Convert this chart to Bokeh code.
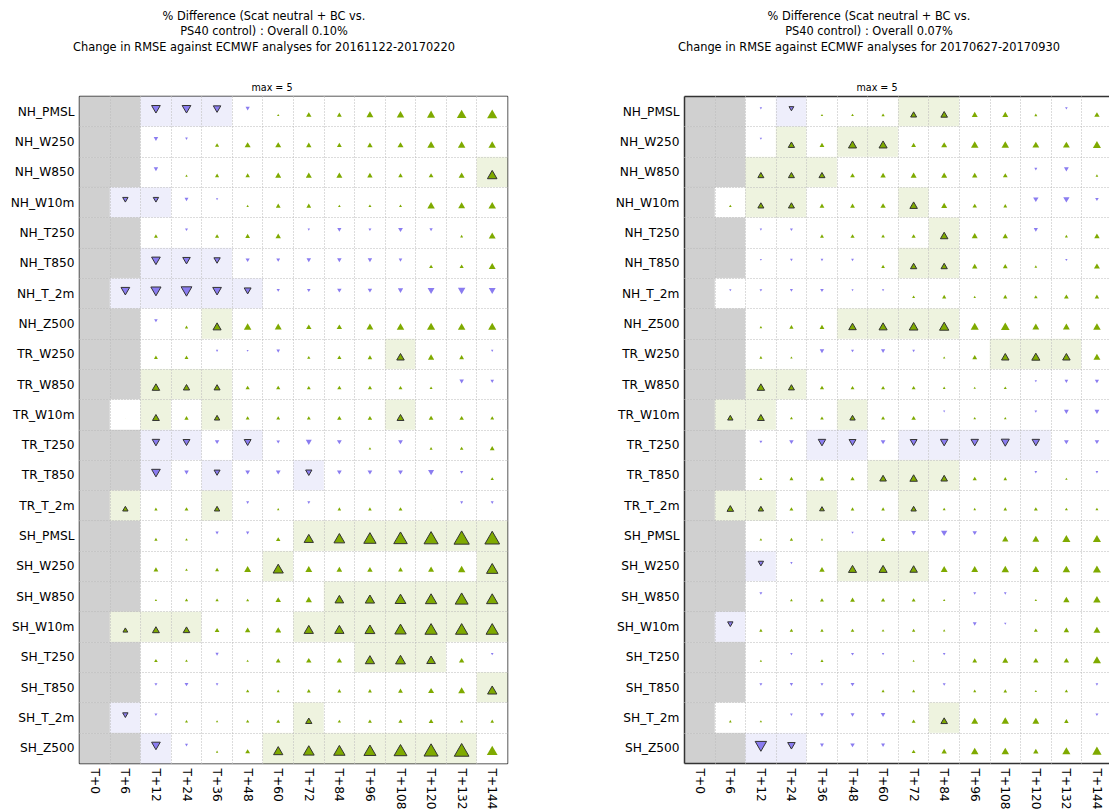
import html

from bokeh.plotting import figure
from bokeh.models import ColumnDataSource, Range1d, FixedTicker, LinearAxis, Div
from bokeh.layouts import row, column
from bokeh.embed import file_html
from bokeh.resources import INLINE

# Scorecard axes
variables = ["NH_PMSL", "NH_W250", "NH_W850", "NH_W10m", "NH_T250", "NH_T850", "NH_T_2m", "NH_Z500",
             "TR_W250", "TR_W850", "TR_W10m", "TR_T250", "TR_T850", "TR_T_2m",
             "SH_PMSL", "SH_W250", "SH_W850", "SH_W10m", "SH_T250", "SH_T850", "SH_T_2m", "SH_Z500"]
lead_times = ["T+0", "T+6", "T+12", "T+24", "T+36", "T+48", "T+60", "T+72",
              "T+84", "T+96", "T+108", "T+120", "T+132", "T+144"]

max_scale = 5
winter_period = "20161122-20170220"
summer_period = "20170627-20170930"
winter_overall = "0.10%"
summer_overall = "0.07%"

# % change in RMSE (positive = improvement); None = not verified
winter_change = [
    [None, None, -2.4, -2.4, -2.0, -0.9, 0.3, 1.3, 1.1, 1.8, 2.0, 2.2, 2.7, 2.9],
    [None, None, -1.0, -0.4, 0.9, 1.5, 1.5, 1.3, 1.1, 1.3, 1.5, 2.0, 2.0, 2.0],
    [None, None, -1.0, 0.3, 0.9, 1.0, 1.5, 1.5, 1.5, 1.3, 1.0, 1.1, 1.5, 2.7],
    [None, -1.3, -1.3, -0.8, -0.3, 0.3, 1.1, 1.1, 0.4, 0.5, 0.5, 2.0, 1.8, 2.0],
    [None, None, 0.8, -0.5, 0.9, 1.1, 1.3, -0.3, -0.9, -0.5, -1.1, -0.6, 0.5, 1.8],
    [None, None, -2.4, -2.0, -1.6, -0.9, -0.8, -1.0, -1.0, -1.0, -0.7, 0.8, 0.9, 1.8],
    [None, -2.4, -2.9, -3.1, -2.4, -1.8, -0.6, -0.7, -1.0, -1.0, -1.3, -1.8, -2.0, -1.8],
    [None, None, -0.7, 0.6, 2.2, 2.0, 1.8, 1.3, 1.3, 1.8, 2.0, 2.2, 2.0, 2.2],
    [None, None, 0.8, 0.8, -0.3, -0.2, -0.7, 0.6, 0.9, 1.0, 2.0, 1.6, 1.1, -0.3],
    [None, None, 2.0, 1.6, 1.5, 0.9, 0.9, 0.8, 0.9, 0.9, 0.8, 0.5, -1.0, -0.7],
    [None, 0.1, 1.8, 0.9, 1.3, 0.8, 0.8, 0.8, 1.0, 1.0, 1.8, 1.1, 1.0, 0.8],
    [None, None, -2.0, -1.8, -1.0, -1.8, -0.7, -1.5, -1.1, 0.4, -1.1, 0.5, 0.7, 1.1],
    [None, None, -2.4, -1.0, -1.5, -1.1, -1.1, -1.6, -1.1, -1.1, -1.1, -1.5, -0.6, 0.6],
    [None, 1.3, 0.6, 0.8, 1.3, -0.5, 0.3, -0.5, 0.7, 0.7, 0.8, 0.1, -0.5, -0.5],
    [None, None, 0.6, 0.4, -0.6, -0.6, 1.0, 2.6, 3.1, 3.6, 4.0, 4.2, 4.6, 4.4],
    [None, None, 1.1, 0.4, 0.8, 1.8, 2.9, 1.8, 1.4, 1.3, 1.1, 1.5, 2.0, 3.3],
    [None, None, 0.3, 0.6, 0.6, 0.5, 1.3, 1.6, 2.4, 2.6, 3.1, 3.3, 3.8, 3.3],
    [None, 1.1, 1.8, 1.7, 1.1, 1.3, 1.5, 2.6, 2.6, 2.8, 3.3, 3.6, 3.6, 3.6],
    [None, None, 0.7, 0.4, -0.6, 0.3, 1.1, 1.3, 1.3, 2.6, 2.8, 2.4, 1.3, -0.4],
    [None, None, -0.5, -0.8, -0.4, 0.6, 0.5, 0.8, 0.8, 0.8, 1.1, 1.5, 1.8, 2.6],
    [None, -1.3, -0.5, 0.5, 0.3, 0.6, 0.8, 1.6, 0.6, 0.8, 0.9, 1.1, 0.6, 0.7],
    [None, None, -2.4, -0.5, 0.3, 1.1, 2.6, 3.1, 3.3, 3.5, 3.8, 4.2, 4.4, 3.1],
]
# "S" marks a statistically significant change
winter_signif = [
    "..SSS.........", "..............", ".............S", ".SS...........",
    "..............", "..SSS.........", ".SSSSS........", "....S.........",
    "..........S...", "..SSS.........", "..S.S.....S...", "..SS.S........",
    "..S.S..S......", ".S..S.........", ".......SSSSSSS", "......S......S",
    "........SSSSSS", ".SSS...SSSSSSS", ".........SSS..", ".............S",
    ".S.....S......", "..S...SSSSSSS.",
]

summer_change = [
    [None, None, -0.3, -1.1, 0.3, 0.4, 0.6, 1.5, 1.7, 1.5, 1.5, 0.5, -0.4, 1.3],
    [None, None, -0.3, 1.6, 1.1, 2.2, 2.2, 1.1, 1.5, 2.0, 2.0, 1.8, 1.8, 2.2],
    [None, None, 1.5, 1.5, 1.5, 1.1, 1.3, 1.5, 1.5, 1.3, 1.1, -0.5, -1.1, 0.4],
    [None, 0.4, 1.5, 1.5, 1.1, 1.1, 1.3, 2.0, 1.5, 1.0, 0.8, -1.3, -1.6, -0.7],
    [None, None, -0.3, -0.5, 0.8, 0.9, 0.7, 0.9, 2.0, 1.5, 1.3, -0.9, 0.5, 1.3],
    [None, None, -0.2, -0.4, -0.4, -0.4, 0.7, 1.6, 1.6, 1.3, 1.1, 0.4, -0.3, 1.5],
    [None, -0.3, -0.4, -0.5, -0.7, -0.2, -0.3, 0.5, 0.9, 0.3, 0.9, 0.7, 1.1, 1.0],
    [None, None, 0.4, 0.9, 1.1, 2.0, 2.2, 2.4, 2.6, 2.2, 2.4, 1.8, 1.8, 2.0],
    [None, None, 0.5, 0.3, -1.0, -0.5, -0.9, -0.4, 0.3, 1.1, 2.0, 2.2, 2.0, 1.8],
    [None, None, 2.0, 1.5, 0.9, 0.8, 0.8, 0.8, 0.4, 0.3, 0.5, -0.3, -0.7, -0.9],
    [None, 1.3, 1.8, 0.5, 0.7, 1.3, 0.8, 1.0, -0.2, 0.4, 0.4, -0.4, -1.1, -1.1],
    [None, None, -0.5, -1.0, -2.0, -1.8, -1.1, -1.8, -2.0, -2.0, -2.2, -2.0, -1.1, -1.0],
    [None, None, 0.6, 0.8, 1.0, 0.9, 1.7, 2.0, 1.7, 0.9, 0.7, -0.4, 0.3, -0.4],
    [None, 1.7, 1.3, 0.8, 1.1, 0.7, 0.7, 1.3, 0.5, 0.4, 0.7, 0.8, 0.5, 0.5],
    [None, None, 0.4, 0.6, 0.3, -0.3, 1.0, -1.1, -1.6, -1.0, 1.6, 1.8, 2.2, 2.2],
    [None, None, -1.3, -0.3, 1.3, 2.2, 2.2, 2.0, 1.8, 1.8, 2.0, 1.8, 2.0, 2.2],
    [None, None, -0.5, 0.4, 0.8, 1.1, 0.9, 0.8, 0.3, -0.5, -0.4, 0.3, 1.6, 2.0],
    [None, -1.3, 0.6, 0.7, 0.6, 0.7, 0.4, 0.6, 0.3, -0.8, -0.3, 0.8, 1.3, 1.8],
    [None, None, 0.3, -0.3, 0.5, -0.5, -0.3, 0.2, -0.4, 1.1, 1.5, 1.3, 1.3, 2.2],
    [None, None, -0.5, -0.6, -0.5, -0.8, 0.5, 0.5, -0.5, 0.5, 0.7, 0.3, 0.6, -0.4],
    [None, 0.4, 0.3, -0.4, -0.9, -0.8, -1.0, 0.8, 1.7, 1.8, 2.0, 1.8, 1.0, -0.5],
    [None, None, -3.3, -2.0, -0.8, -1.0, -0.8, 0.8, 1.3, 2.0, 2.0, 1.3, 2.2, 2.6],
]
summer_signif = [
    "...S...SS.....", "...S.SS.......", "..SSS.........", "..SS...S......",
    "........S.....", ".......SS.....", "..............", ".....SSSS.....",
    "..........SSS.", "..SS..........", ".SS..S........", "....SS.SSSSS..",
    "......SSS.....", ".SS.S..S......", "..............", "..S..SSS......",
    "..............", ".S............", "..............", "..............",
    "........S.....", "..SS..........",
]

# Styling
MISSING_BG = "#d0d0d0"
BETTER_BG = "#eef3df"
WORSE_BG = "#eeeefb"
BETTER_FILL = "#7faa00"
WORSE_FILL = "#8a7cf0"
EDGE = "#333333"
FRAME = "#333333"
FONT = "DejaVu Sans"
PX_PER_UNIT = 15.0 / max_scale
MIN_MARK = 1.5
MARKER_SHIFT = 0.12

PAGE_W = 1109
FIG_H = 812
HEAD_H = 94          # strip holding the title lines
PLOT_H = FIG_H - HEAD_H
BORDER_TOP = 2
BORDER_BOTTOM = 45
LEFT_W, LEFT_BORDER = 560, 79
RIGHT_W, RIGHT_BORDER = PAGE_W - LEFT_W, 124


def build_sources(change, signif):
    cx, cy, ccol = [], [], []
    mx, my, mkind, msize, mfill, medge = [], [], [], [], [], []
    for r, (vals, flags) in enumerate(zip(change, signif)):
        for c, (v, f) in enumerate(zip(vals, flags)):
            cx.append(c)
            cy.append(r)
            if v is None:
                ccol.append(MISSING_BG)
                continue
            sig = f == "S"
            up = v >= 0
            if sig:
                ccol.append(BETTER_BG if up else WORSE_BG)
            else:
                ccol.append("#ffffff")
            mx.append(c)
            my.append(r + MARKER_SHIFT if up else r - MARKER_SHIFT)
            mkind.append("triangle" if up else "inverted_triangle")
            msize.append(abs(v) * PX_PER_UNIT + (MIN_MARK if abs(v) >= 0.2 else 0.0))
            mfill.append(BETTER_FILL if up else WORSE_FILL)
            medge.append(1.0 if sig else 0.0)
    cells = ColumnDataSource(dict(x=cx, y=cy, color=ccol))
    marks = ColumnDataSource(dict(x=mx, y=my, marker=mkind, size=msize,
                                  fill=mfill, edge_alpha=medge))
    return cells, marks


def title_block(frame_left, period, overall):
    lines = [
        ("% Difference (Scat neutral + BC vs.", 16.5, 11.4),
        ("PS40 control) : Overall " + overall, 32.0, 11.4),
        ("Change in RMSE against ECMWF analyses for " + period, 47.5, 11.4),
    ]
    parts = []
    for text, top, size in lines:
        parts.append((frame_left + 185, top, size, text))
    parts.append((frame_left + 193, 87.5, 9.6, "max = %d" % max_scale))
    return parts


def make_header():
    items = (title_block(LEFT_BORDER, winter_period, winter_overall)
             + title_block(LEFT_W + RIGHT_BORDER, summer_period, summer_overall))
    spans = []
    for x, y, size, text in items:
        spans.append(
            '<div style="position:absolute;left:%.1fpx;top:%.1fpx;'
            'transform:translate(-50%%,-50%%);white-space:nowrap;line-height:1;'
            "font-family:'DejaVu Sans';font-size:%.1fpx;color:#000000;\">%s</div>"
            % (x, y, size, html.escape(text)))
    body = ('<div style="position:relative;width:%dpx;height:%dpx;margin:0;padding:0;">%s</div>'
            % (PAGE_W, HEAD_H, "".join(spans)))
    return Div(text=body, width=PAGE_W, height=HEAD_H, margin=0)


def make_panel(change, signif, width, border_left, border_right, x_end, closed_frame):
    p = figure(width=width, height=PLOT_H,
               x_range=Range1d(-0.5, x_end), y_range=Range1d(len(variables) - 0.5, -0.5),
               output_backend="svg", toolbar_location=None,
               min_border_left=border_left, min_border_right=border_right,
               min_border_top=BORDER_TOP, min_border_bottom=BORDER_BOTTOM)
    p.background_fill_color = "#ffffff"
    p.border_fill_color = "#ffffff"

    cells, marks = build_sources(change, signif)
    p.rect(x="x", y="y", width=1, height=1, source=cells,
           fill_color="color", line_color="color", line_width=0.5)
    p.scatter(x="x", y="y", marker="marker", size="size", source=marks,
              fill_color="fill", line_color=EDGE, line_alpha="edge_alpha", line_width=1)

    # dotted cell boundaries
    p.xgrid.ticker = FixedTicker(ticks=[i + 0.5 for i in range(len(lead_times) - 1)])
    p.ygrid.ticker = FixedTicker(ticks=[i + 0.5 for i in range(len(variables) - 1)])
    for g in (p.xgrid, p.ygrid):
        g.grid_line_color = "#b8b8b8"
        g.grid_line_dash = "1 2"
        g.grid_line_width = 1
        g.level = "guide"

    p.xaxis.ticker = FixedTicker(ticks=list(range(len(lead_times))))
    p.xaxis.major_label_overrides = {i: t for i, t in enumerate(lead_times)}
    p.xaxis.major_label_orientation = "vertical"
    p.yaxis.ticker = FixedTicker(ticks=list(range(len(variables))))
    p.yaxis.major_label_overrides = {i: v for i, v in enumerate(variables)}
    for ax in (p.xaxis[0], p.yaxis[0]):
        ax.major_tick_line_color = None
        ax.minor_tick_line_color = None
        ax.major_tick_out = 0
        ax.major_tick_in = 0
        ax.minor_tick_out = 0
        ax.major_label_standoff = 5
        ax.major_label_text_font = FONT
        ax.major_label_text_font_size = "12.2px"
        ax.major_label_text_color = "#000000"

    if closed_frame:
        p.outline_line_color = FRAME
        p.outline_line_width = 1.5
        for ax in (p.xaxis[0], p.yaxis[0]):
            ax.axis_line_color = None
    else:
        p.outline_line_color = None
        for ax in (p.xaxis[0], p.yaxis[0]):
            ax.axis_line_color = FRAME
            ax.axis_line_width = 1.5
        top = LinearAxis(ticker=FixedTicker(ticks=[]), axis_line_color=FRAME,
                         axis_line_width=1.5, major_tick_out=0, major_tick_in=0,
                         minor_tick_out=0, minor_tick_in=0, major_label_standoff=0,
                         axis_label_standoff=0, major_label_text_font_size="0px")
        p.add_layout(top, "above")
    return p


left = make_panel(winter_change, winter_signif, width=LEFT_W, border_left=LEFT_BORDER,
                  border_right=53, x_end=13.5, closed_frame=True)
right = make_panel(summer_change, summer_signif, width=RIGHT_W, border_left=RIGHT_BORDER,
                   border_right=0, x_end=-0.5 + 425 / 30.55, closed_frame=False)

layout = column(make_header(), row(left, right))
open("out.html", "w").write(file_html(layout, INLINE, title="RMSE scorecard"))
